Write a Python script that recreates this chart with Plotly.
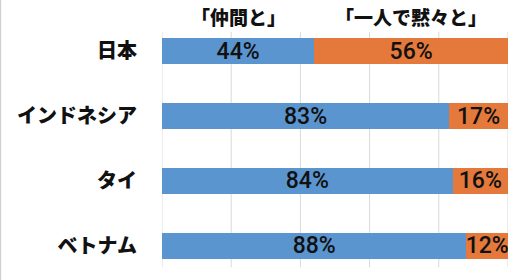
import plotly.graph_objects as go

countries = ["日本", "インドネシア", "タイ", "ベトナム"]
with_friends = [44, 83, 84, 88]
alone = [56, 17, 16, 12]
series_names = ["「仲間と」", "「一人で黙々と」"]
x_ticks = [0, 20, 40, 60, 80, 100]

BLUE = "#5B95D0"
ORANGE = "#E5793B"
LABEL_FONT = dict(family="Roboto, sans-serif", size=23, color="#111111", weight=500)

fig = go.Figure()
for name, vals, col in [(series_names[0], with_friends, BLUE), (series_names[1], alone, ORANGE)]:
    fig.add_trace(go.Bar(
        y=countries, x=vals, orientation="h", name=name,
        marker=dict(color=col, line=dict(width=0)),
        text=[f"{v}%" for v in vals], textposition="inside",
        insidetextanchor="middle", constraintext="none",
        textfont=LABEL_FONT,
    ))

# grid lines (drawn within plot band as in reference)
for t in x_ticks:
    fig.add_shape(type="line", xref="x", yref="paper", x0=t, x1=t, y0=0.042, y1=0.95,
                  line=dict(color="#D9D9D9", width=1), layer="below")

# left border of chart frame
fig.add_shape(type="line", xref="paper", yref="paper", x0=-0.467, x1=-0.467, y0=-0.02, y1=1.08,
              line=dict(color="#D0D0D0", width=1.5))

# series header annotations above first row segments
hdr_x = [with_friends[0] / 2, with_friends[0] + alone[0] / 2]
for name, xv in zip(series_names, hdr_x):
    fig.add_annotation(x=xv, xref="x", y=1.008, yref="paper", text=name, showarrow=False,
                       yanchor="middle",
                       font=dict(family="Noto Sans CJK JP", size=19, color="#111111", weight=900))

fig.update_layout(
    width=522, height=280,
    margin=dict(l=162, r=14, t=19, b=2),
    barmode="stack", bargap=0.6,
    showlegend=False,
    plot_bgcolor="white", paper_bgcolor="white",
    xaxis=dict(range=[0, 100], showgrid=False, showticklabels=False, zeroline=False,
               tickvals=x_ticks, fixedrange=True),
    yaxis=dict(autorange="reversed", showgrid=False, ticklabelstandoff=24,
               tickfont=dict(family="Noto Sans CJK JP", size=20, color="#111111", weight=900)),
)

fig.write_html("out.html")
